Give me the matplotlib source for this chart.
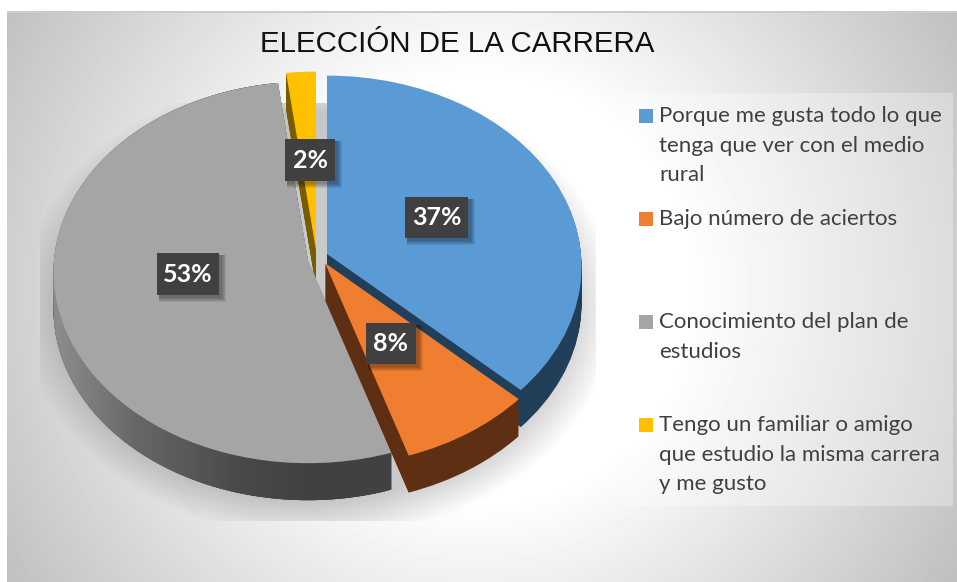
import numpy as np
import matplotlib
matplotlib.use("Agg")
import matplotlib.pyplot as plt
from matplotlib.patches import Wedge, Rectangle, Polygon
from matplotlib.transforms import Transform

title = "ELECCIÓN DE LA CARRERA"
categories = [
    "Porque me gusta todo lo que\ntenga que ver con el medio\nrural",
    "Bajo número de aciertos",
    "Conocimiento del plan de\nestudios",
    "Tengo un familiar o amigo\nque estudio la misma carrera\ny me gusto",
]
values = [37, 8, 53, 2]
colors = ["#5b9bd5", "#f07e30", "#a5a5a5", "#ffc000"]
side_colors = ["#223f59", "#5e2f12", "#414141", "#7a5c00"]

W, H = 957, 582
R, RY, P, DEPTH = 254, 190, 0.065, 37
centers = [(327, 254), (325, 263), (308, 260), (316, 250)]
label_boxes = [(405, 197, 63, 41), (366, 323, 50, 41), (157, 253, 62, 42), (285, 139, 50, 42)]
legend_y = [116, 219, 322, 425]


class Tilt(Transform):
    input_dims = output_dims = 2
    has_inverse = False

    def __init__(self, cx, cy):
        super().__init__()
        self.cx, self.cy = cx, cy

    def transform_non_affine(self, xy):
        xy = np.asarray(xy, float)
        w = 1 + P * xy[:, 1]
        return np.column_stack([self.cx + R * xy[:, 0] / w, self.cy - RY * xy[:, 1] / w])


fig = plt.figure(figsize=(W / 100, H / 100), dpi=100, facecolor="white")
ax = fig.add_axes([0, 0, 1, 1])
ax.axis("off")

wedges, _ = ax.pie(values, colors=colors, startangle=90, counterclock=False, wedgeprops=dict(linewidth=0))
ax.set_aspect("auto")
ax.set_axis_off()

# background
yy, xx = np.mgrid[0:H, 0:W]
r = np.hypot(xx - 478, yy - 291)
bg = np.clip(1 - np.clip(r - 210, 0, None) * 0.00072, 0.7, 1)
bg[yy < 13] = 0.8
bg[yy < 11] = 1
bg[xx < 7] = 1
ax.imshow(bg, cmap="gray", vmin=0, vmax=1, extent=(0, W, H, 0), aspect="auto", zorder=0, interpolation="bilinear")

# soft floor shadow
d = np.hypot((xx - 318) / 262, (yy - 305) / 205)
sh = np.clip((1.14 - d) / 0.2, 0, 1) * 0.21
sh[(yy < 103) | (yy > 520) | (xx < 40) | (xx > 595)] = 0
rgba = np.zeros((H, W, 4))
rgba[..., 3] = sh
ax.imshow(rgba, extent=(0, W, H, 0), aspect="auto", zorder=1)

# legend panel
ax.add_patch(Rectangle((626, 93), 327, 413, fc="white", alpha=0.3, lw=0, zorder=2))

ax.set_xlim(0, W)
ax.set_ylim(H, 0)

order = [3, 2, 0, 1]
for i in order:
    wd = wedges[i]
    cx, cy = centers[i]
    z = 3 + order.index(i)
    for dy in range(DEPTH, 0, -1):
        p = Wedge((0, 0), 1, wd.theta1, wd.theta2, fc=side_colors[i], lw=0, zorder=z)
        ax.add_patch(p)
        p.set_transform(Tilt(cx, cy + dy) + ax.transData)
    if i == 2:
        # shaded outer wall of the large slice
        steps = np.arange(wd.theta1, wd.theta2 - 2, 1.0)
        tilt = Tilt(cx, cy)
        for t in steps[::-1]:
            th = np.radians([t, t + 2.0])
            pts = tilt.transform_non_affine(np.column_stack([np.cos(th), np.sin(th)]))
            c = np.interp(pts[0, 0], [55, 133, 230, 300], [0.55, 0.40, 0.29, 0.255])
            ax.add_patch(Polygon([pts[0], pts[1], pts[1] + [0, DEPTH], pts[0] + [0, DEPTH]],
                                 fc=(c, c, c), lw=0, zorder=z))
    wd.set_zorder(z + 0.5)
    wd.set_transform(Tilt(cx, cy) + ax.transData)

# data labels
for v, (x, y, w, h) in zip(values, label_boxes):
    for k in range(5, 0, -1):
        ax.add_patch(Rectangle((x + 2, y + 2), w + k, h + k, fc="black", alpha=0.08, lw=0, zorder=10))
    ax.add_patch(Rectangle((x, y), w, h, fc="#404040", lw=0, zorder=11))
    ax.text(x + w / 2, y + h / 2, f"{v}%", color="white", fontsize=18, fontweight="bold",
            family="Lato", ha="center", va="center", zorder=12)

ax.text(457, 44, title, fontsize=21.25, family="Liberation Sans", color="#111111", ha="center", va="center", zorder=12)

for lab, col, y in zip(categories, colors, legend_y):
    ax.add_patch(Rectangle((639, y - 7), 14, 14, fc=col, lw=0, zorder=11))
    ax.text(659, y - 10, lab, fontsize=16, family="Lato", color="#404040", ha="left", va="top",
            linespacing=1.6, zorder=12)

fig.savefig("out.png", dpi=100)
